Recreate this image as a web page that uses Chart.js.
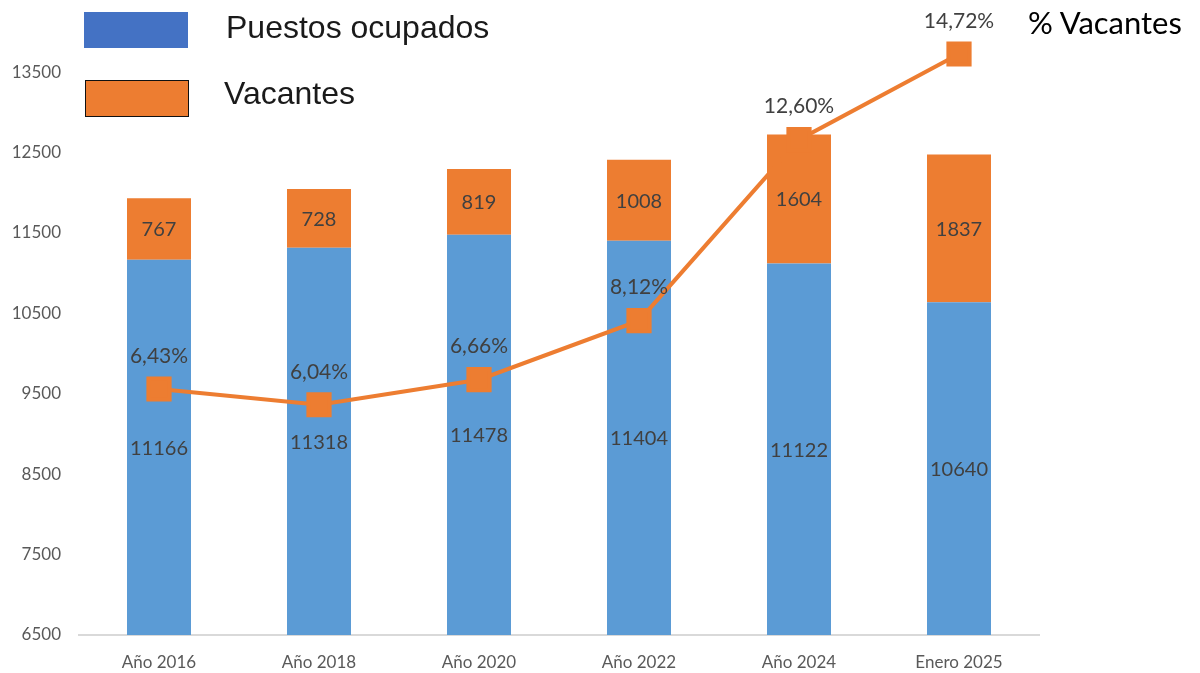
<!DOCTYPE html>
<html>
<head>
<meta charset="utf-8">
<script src="https://cdn.jsdelivr.net/npm/chart.js@4"></script>
<style>
  html, body { margin: 0; padding: 0; background: #fff; }
  #wrap { position: relative; width: 1200px; height: 673px; }
  canvas { position: absolute; left: 0; top: 0; }
  .box { position: absolute; width: 104px; height: 36px; box-sizing: border-box; }
  .lbl { position: absolute; font-family: "Liberation Sans", Arial, sans-serif; font-size: 32px; color: #1a1a1a; line-height: 1; white-space: nowrap; }
  #pctTitle { position: absolute; left: 1028px; top: 7px; font-family: Lato, sans-serif; font-size: 31px; color: #000; line-height: 1; white-space: nowrap; }
</style>
</head>
<body>
<div id="wrap">
  <canvas id="chart" width="1200" height="673"></canvas>
  <div class="box" style="left:84px; top:12px; background:#4472C4;"></div>
  <div class="lbl" style="left:226px; top:11px;">Puestos ocupados</div>
  <div class="box" style="left:85px; top:80px; height:37px; background:#ED7D31; border:1.5px solid #111;"></div>
  <div class="lbl" style="left:224px; top:77px;">Vacantes</div>
  <div id="pctTitle">% Vacantes</div>
</div>
<script>
const categories = ["Año 2016", "Año 2018", "Año 2020", "Año 2022", "Año 2024", "Enero 2025"];
const ocupados = [11166, 11318, 11478, 11404, 11122, 10640];
const vacantes = [767, 728, 819, 1008, 1604, 1837];
const pctVacantes = [6.43, 6.04, 6.66, 8.12, 12.60, 14.72];
const yTicks = [6500, 7500, 8500, 9500, 10500, 11500, 12500, 13500];

const BLUE = "#5B9BD5";
const ORANGE = "#ED7D31";
const LABEL_FONT = "Lato, 'Liberation Sans', sans-serif";

/* value labels drawn on top of everything */
const valueLabels = {
  id: "valueLabels",
  afterDatasetsDraw(chart) {
    const ctx = chart.ctx;
    const bottom = chart.chartArea.bottom;
    ctx.save();
    ctx.fillStyle = "#404040";
    ctx.textAlign = "center";
    ctx.textBaseline = "middle";

    // bar segment values, centred in the visible part of each segment
    ctx.font = "20px " + LABEL_FONT;
    [0, 1].forEach(di => {
      const meta = chart.getDatasetMeta(di);
      meta.data.forEach((bar, i) => {
        const base = Math.min(bar.base, bottom);
        const mid = (bar.y + base) / 2;
        ctx.fillText(String(chart.data.datasets[di].data[i]), bar.x, mid + 1);
      });
    });

    // percentages above the markers
    ctx.font = "21px " + LABEL_FONT;
    const lineMeta = chart.getDatasetMeta(2);
    lineMeta.data.forEach((pt, i) => {
      const txt = pctVacantes[i].toFixed(2).replace(".", ",") + "%";
      ctx.fillText(txt, pt.x, pt.y - 33);
    });
    ctx.restore();
  }
};

new Chart(document.getElementById("chart"), {
  type: "bar",
  data: {
    labels: categories,
    datasets: [
      {
        label: "Puestos ocupados",
        data: ocupados,
        backgroundColor: BLUE,
        stack: "s",
        order: 1,
        yAxisID: "y",
        barPercentage: 0.8,
        categoryPercentage: 0.5
      },
      {
        label: "Vacantes",
        data: vacantes,
        backgroundColor: ORANGE,
        stack: "s",
        order: 2,
        yAxisID: "y",
        barPercentage: 0.8,
        categoryPercentage: 0.5
      },
      {
        type: "line",
        label: "% Vacantes",
        data: pctVacantes,
        borderColor: ORANGE,
        backgroundColor: ORANGE,
        borderWidth: 4,
        pointStyle: "rect",
        pointRadius: 15,
        pointHoverRadius: 15,
        order: 0,
        yAxisID: "y2"
      }
    ]
  },
  options: {
    responsive: false,
    animation: false,
    layout: { padding: { top: 32, right: 161, left: 0, bottom: 0 } },
    plugins: {
      legend: { display: false },
      tooltip: { enabled: false }
    },
    scales: {
      x: {
        stacked: true,
        grid: { display: false },
        border: { display: true, color: "#d9d9d9", width: 2 },
        ticks: { color: "#595959", font: { family: LABEL_FONT, size: 17 }, padding: 9 },
        afterFit(scale) { scale.height = 38; }
      },
      y: {
        stacked: true,
        min: 6500,
        max: 14000,
        grid: { display: false },
        border: { display: false },
        afterBuildTicks(scale) { scale.ticks = yTicks.map(v => ({ value: v })); },
        ticks: {
          color: "#595959",
          font: { family: LABEL_FONT, size: 17 },
          padding: 10,
          callback: v => String(v)
        },
        afterFit(scale) { scale.width = 79; }
      },
      y2: {
        display: false,
        min: 0.342,
        max: 15.264
      }
    }
  },
  plugins: [valueLabels]
});
</script>
</body>
</html>
